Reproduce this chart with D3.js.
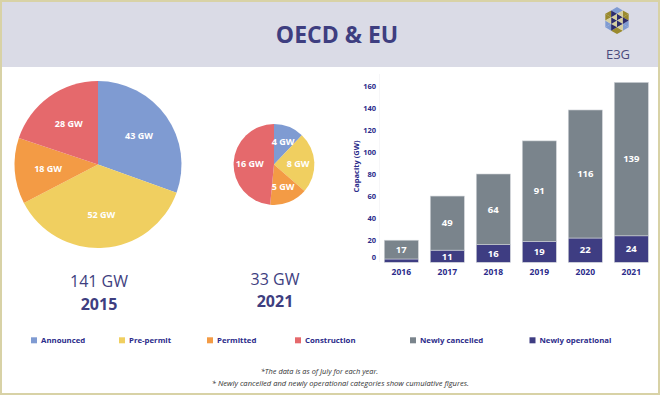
<!DOCTYPE html>
<html>
<head>
<meta charset="utf-8">
<script src="https://cdn.jsdelivr.net/npm/d3@7"></script>
<style>
  body { margin: 0; background: #fff; }
  svg { display: block; font-family: "Open Sans", sans-serif; }
</style>
</head>
<body>
<script>
// ----- Data -----
const pieCategories = ["Announced", "Pre-permit", "Permitted", "Construction"];
const pie2015 = [43, 52, 18, 28];
const pie2021 = [4, 8, 5, 16];
const pieYears = ["2015", "2021"];

const barYears = ["2016", "2017", "2018", "2019", "2020", "2021"];
const cancelled = [17, 49, 64, 91, 116, 139];
const operational = [3, 11, 16, 19, 22, 24];
const yTicks = [0, 20, 40, 60, 80, 100, 120, 140, 160];
const barCategories = ["Newly cancelled", "Newly operational"];

const pieColors = ["#7f9bd2", "#f0cf60", "#f39b45", "#e5696c"];
const barColors = { cancelled: "#7a848c", operational: "#3e3d82" };
const navy = "#3e3e80";
const tickBlue = "#2b2b8a";

const width = 661, height = 397;

const svg = d3.select("body").append("svg")
    .attr("width", width)
    .attr("height", height);

// frame + header band
svg.append("rect")
    .attr("x", 1).attr("y", 1)
    .attr("width", width - 3).attr("height", height - 4)
    .attr("fill", "#fff")
    .attr("stroke", "#d8d2a6")
    .attr("stroke-width", 2);

svg.append("rect")
    .attr("x", 2).attr("y", 2)
    .attr("width", width - 5).attr("height", 65)
    .attr("fill", "#dadbe6");

svg.append("text")
    .attr("x", 337).attr("y", 42.5)
    .attr("text-anchor", "middle")
    .attr("font-size", 23)
    .attr("font-weight", 700)
    .attr("fill", navy)
    .text("OECD & EU");

// ----- E3G logo (hexagon of small triangles) -----
const logo = svg.append("g").attr("transform", "translate(617,20.5)");
const hexR = 13.5;
const hexPts = d3.range(6).map(i => {
    const a = (-90 + 60 * i) * Math.PI / 180;
    return [hexR * Math.cos(a), hexR * Math.sin(a)];
});
const mid = (p, q) => [(p[0] + q[0]) / 2, (p[1] + q[1]) / 2];
const logoCols = ["#2c2c6c", "#d6cfa0", "#7f9bd2", "#9a8a2e"];
d3.range(6).forEach(i => {
    const c = [0, 0], v1 = hexPts[i], v2 = hexPts[(i + 1) % 6];
    const ma = mid(c, v1), mb = mid(c, v2), mc = mid(v1, v2);
    const tris = [[c, ma, mb], [ma, v1, mc], [mb, mc, v2], [ma, mc, mb]];
    const cols = i % 2 === 0
        ? [logoCols[0], logoCols[2], logoCols[3], logoCols[1]]
        : [logoCols[1], logoCols[3], logoCols[2], logoCols[0]];
    tris.forEach((t, j) => {
        logo.append("path")
            .attr("d", "M" + t.map(p => p.join(",")).join("L") + "Z")
            .attr("fill", cols[j]);
    });
});
svg.append("text")
    .attr("x", 618).attr("y", 59)
    .attr("text-anchor", "middle")
    .attr("font-size", 13)
    .attr("fill", "#4a4a7c")
    .text("E3G");

// ----- Pies -----
const rScale = d3.scaleSqrt().domain([0, d3.sum(pie2015)]).range([0, 83.5]);
const pie = d3.pie().sort(null);

function drawPie(values, cx, year) {
    const total = d3.sum(values);
    const r = rScale(total);
    const g = svg.append("g").attr("transform", "translate(" + cx + ",164.5)");
    const arc = d3.arc().innerRadius(0).outerRadius(r);
    const labelArc = d3.arc().innerRadius(r * 0.6).outerRadius(r * 0.6);

    const arcs = pie(values);
    g.selectAll("path")
        .data(arcs)
        .enter()
        .append("path")
        .attr("d", arc)
        .attr("fill", (d, i) => pieColors[i]);

    g.selectAll(".pieLabel")
        .data(arcs)
        .enter()
        .append("text")
        .attr("class", "pieLabel")
        .attr("transform", d => "translate(" + labelArc.centroid(d) + ")")
        .attr("text-anchor", "middle")
        .attr("dy", "0.35em")
        .attr("font-size", 9)
        .attr("font-weight", 700)
        .attr("fill", "#fff")
        .text(d => d.data + " GW");

    // total + year under the pie
    svg.append("text")
        .attr("x", cx + 1).attr("y", 287 - (year === "2021" ? 2 : 0))
        .attr("text-anchor", "middle")
        .attr("font-size", 16)
        .attr("fill", navy)
        .text(total + " GW");
    svg.append("text")
        .attr("x", cx + 1).attr("y", 310 - (year === "2021" ? 3 : 0))
        .attr("text-anchor", "middle")
        .attr("font-size", 16)
        .attr("font-weight", 700)
        .attr("fill", navy)
        .text(year);
}

drawPie(pie2015, 98, pieYears[0]);
drawPie(pie2021, 274, pieYears[1]);

// ----- Stacked bars -----
const barData = barYears.map((yr, i) => ({
    year: yr, operational: operational[i], cancelled: cancelled[i]
}));

const xBar = d3.scaleBand()
    .domain(barYears)
    .range([378.3, 654.3])
    .paddingInner(0.26)
    .paddingOuter(0.13);

const yBar = d3.scaleLinear()
    .domain([0, 160])
    .range([262.3, 85.7]);

const stack = d3.stack().keys(["operational", "cancelled"]);
const series = stack(barData);

// faint axis line
svg.append("line")
    .attr("x1", 379.5).attr("x2", 379.5)
    .attr("y1", 74).attr("y2", 262)
    .attr("stroke", "#f6f6f8");

const yAxis = svg.append("g")
    .attr("transform", "translate(379,0)")
    .call(d3.axisLeft(yBar).tickValues(yTicks).tickSize(0).tickPadding(3));
yAxis.select(".domain").remove();
yAxis.selectAll("text")
    .attr("font-family", "Open Sans, sans-serif")
    .attr("font-size", 7.5)
    .attr("font-weight", 700)
    .attr("fill", tickBlue)
    .attr("dy", d => d === 0 ? "-0.35em" : "0.32em");

svg.append("text")
    .attr("transform", "translate(356,166.5) rotate(-90)")
    .attr("text-anchor", "middle")
    .attr("dy", "0.35em")
    .attr("font-size", 7.5)
    .attr("font-weight", 700)
    .attr("fill", tickBlue)
    .text("Capacity (GW)");

const layers = svg.selectAll(".layer")
    .data(series)
    .enter()
    .append("g")
    .attr("class", "layer")
    .attr("fill", d => barColors[d.key]);

layers.selectAll("rect")
    .data(d => d)
    .enter()
    .append("rect")
    .attr("x", d => xBar(d.data.year))
    .attr("y", d => yBar(d[1]))
    .attr("width", xBar.bandwidth())
    .attr("height", d => yBar(d[0]) - yBar(d[1]))
    .attr("stroke", "#cfd3d8")
    .attr("stroke-width", 0.6);

layers.each(function(s) {
    d3.select(this).selectAll("text")
        .data(s.filter(d => d.data[s.key] >= 5))
        .enter()
        .append("text")
        .attr("x", d => xBar(d.data.year) + xBar.bandwidth() / 2)
        .attr("y", d => (yBar(d[0]) + yBar(d[1])) / 2)
        .attr("dy", "0.35em")
        .attr("text-anchor", "middle")
        .attr("font-size", 9.5)
        .attr("font-weight", 700)
        .attr("fill", "#fff")
        .text(d => d.data[s.key]);
});

const xAxis = svg.append("g")
    .attr("transform", "translate(0,262.3)")
    .call(d3.axisBottom(xBar).tickSize(0).tickPadding(6.5));
xAxis.select(".domain").remove();
xAxis.selectAll("text")
    .attr("font-family", "Open Sans, sans-serif")
    .attr("font-size", 8.5)
    .attr("font-weight", 700)
    .attr("fill", tickBlue);

// ----- Legend -----
const legendItems = pieCategories.map((c, i) => ({ label: c, color: pieColors[i], x: 31 + i * 88 }))
    .concat(barCategories.map((c, i) => ({
        label: c,
        color: i === 0 ? barColors.cancelled : barColors.operational,
        x: 410 + i * 119.5
    })));

const legend = svg.selectAll(".legendItem")
    .data(legendItems)
    .enter()
    .append("g")
    .attr("class", "legendItem")
    .attr("transform", d => "translate(" + d.x + ",337.3)");

legend.append("rect")
    .attr("width", 6).attr("height", 6)
    .attr("fill", d => d.color);

legend.append("text")
    .attr("x", 10).attr("y", 3)
    .attr("dy", "0.35em")
    .attr("font-size", 7.8)
    .attr("font-weight", 700)
    .attr("fill", tickBlue)
    .text(d => d.label);

// ----- Footnotes -----
svg.append("text")
    .attr("x", 319.5).attr("y", 373.5)
    .attr("text-anchor", "middle")
    .attr("font-size", 7.4)
    .attr("font-style", "italic")
    .attr("fill", "#333")
    .text("*The data is as of July for each year.");

svg.append("text")
    .attr("x", 340.4).attr("y", 385.5)
    .attr("text-anchor", "middle")
    .attr("font-size", 7.6)
    .attr("font-style", "italic")
    .attr("fill", "#333")
    .text("* Newly cancelled and newly operational categories show cumulative figures.");
</script>
</body>
</html>
